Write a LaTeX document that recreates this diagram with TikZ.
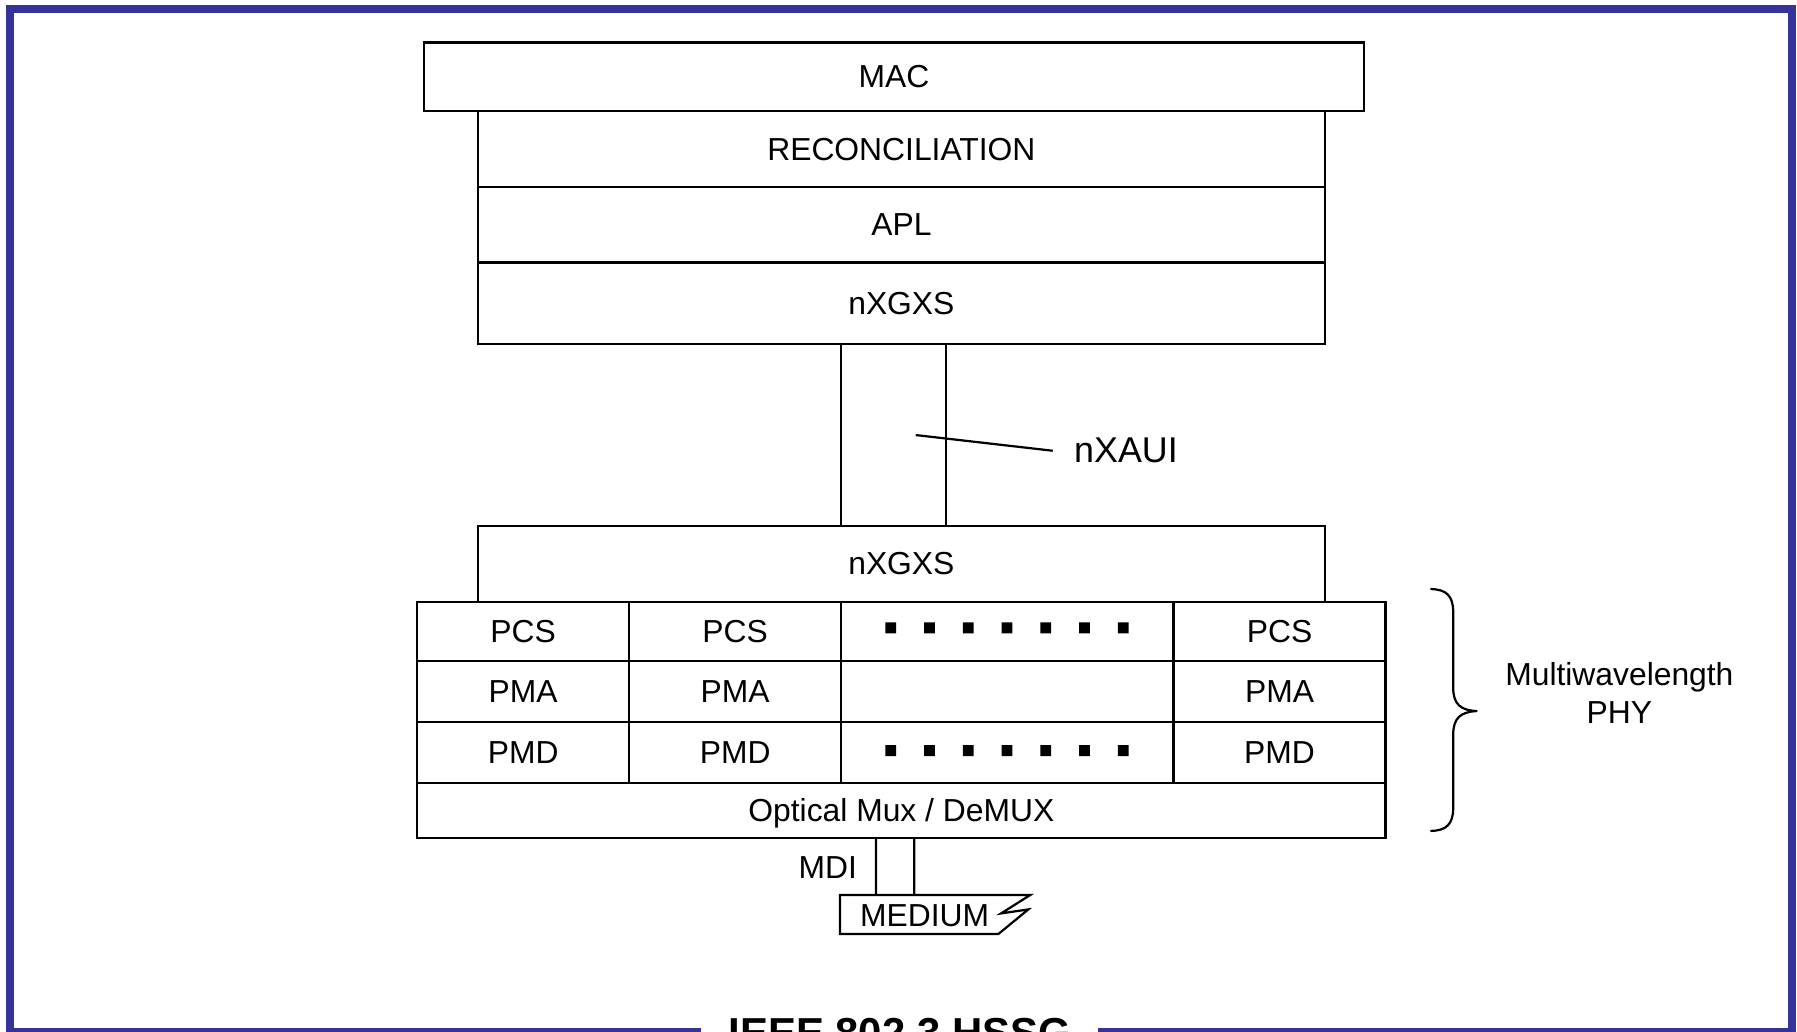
\documentclass[tikz,border=0pt]{standalone}
\usepackage{fontspec}
\setmainfont{Liberation Sans}
\usepackage{tikz}
\usetikzlibrary{positioning}
\definecolor{framecol}{RGB}{51,51,153}

\begin{document}
\begin{tikzpicture}[
  layer/.style={draw=black,line width=0.55pt,inner sep=0pt,outer sep=0pt,
    text depth=0pt,font=\fontsize{7.9}{9.5}\selectfont},
  stack/.style={layer,minimum width=7.39cm,minimum height=0.66cm},
  cell/.style={layer,minimum width=1.85cm,minimum height=0.53cm},
  gap/.style={layer,minimum width=2.9cm,minimum height=0.53cm},
  ]
  \useasboundingbox (0,0) rectangle (15.68,-9.0);
  \draw[framecol,line width=0.07cm]
  (0.087,-0.076) rectangle (15.64,-9.008);
  % upper stack
  \node[layer,minimum width=8.2cm,minimum height=0.6cm] (mac) at (7.8,-0.67) {MAC};
  \node[stack,anchor=north] (rec) at (7.865,-0.97) {RECONCILIATION};
  \node[stack,below=0pt of rec] (apl) {APL};
  \node[stack,minimum height=0.71cm,below=0pt of apl] (xgxs) {nXGXS};
  % lower stack
  \node[stack,anchor=north] (xgxsb) at (7.865,-4.59) {nXGXS};
  \node[cell,minimum height=0.52cm,anchor=north west] (pcsa) at (3.64,-5.25) {PCS};
  \node[cell,minimum height=0.52cm,right=0pt of pcsa] (pcsb) {PCS};
  \node[gap,minimum height=0.52cm,right=0pt of pcsb] (dotsa) {};
  \node[cell,minimum height=0.52cm,right=0pt of dotsa] (pcsc) {PCS};
  \node[cell,below=0pt of pcsa] (pmaa) {PMA};
  \node[cell,below=0pt of pcsb] (pmab) {PMA};
  \node[gap,below=0pt of dotsa] (pmagap) {};
  \node[cell,below=0pt of pcsc] (pmac) {PMA};
  \node[cell,below=0pt of pmaa] (pmda) {PMD};
  \node[cell,below=0pt of pmab] (pmdb) {PMD};
  \node[gap,below=0pt of pmagap] (dotsb) {};
  \node[cell,below=0pt of pmac] (pmdc) {PMD};
  \node[layer,minimum width=8.45cm,minimum height=0.48cm,anchor=north west] (mux)
  at (pmda.south west) {Optical Mux / DeMUX};
  \fill
  (7.725,-5.43) rectangle (7.819,-5.526)
  (8.063,-5.43) rectangle (8.157,-5.526)
  (8.401,-5.43) rectangle (8.495,-5.526)
  (8.739,-5.43) rectangle (8.833,-5.526)
  (9.077,-5.43) rectangle (9.171,-5.526)
  (9.415,-5.43) rectangle (9.509,-5.526)
  (9.753,-5.43) rectangle (9.847,-5.526);
  \fill
  (7.725,-6.501) rectangle (7.819,-6.597)
  (8.063,-6.501) rectangle (8.157,-6.597)
  (8.401,-6.501) rectangle (8.495,-6.597)
  (8.739,-6.501) rectangle (8.833,-6.597)
  (9.077,-6.501) rectangle (9.171,-6.597)
  (9.415,-6.501) rectangle (9.509,-6.597)
  (9.753,-6.501) rectangle (9.847,-6.597);
  % nXAUI
  \draw[line width=0.55pt]
  ([xshift=-0.529cm]xgxs.south) -- ([xshift=-0.529cm]xgxsb.north)
  ([xshift=0.39cm]xgxs.south) -- ([xshift=0.39cm]xgxsb.north);
  \node[anchor=west,inner sep=0pt,font=\fontsize{8.9}{10.7}\selectfont] (xaui) at (9.366,-3.933) {nXAUI};
  \coordinate (lead) at (7.99,-3.796);
  \draw[line width=0.55pt]
  (lead) -- ([xshift=-0.18cm]xaui.west);
  % medium
  \coordinate (medtl) at (7.33,-7.81);
  \draw[line width=0.55pt]
  (medtl)
  -- (8.988,-7.81)
  -- (8.735,-7.97)
  -- (8.973,-7.935)
  -- (8.711,-8.15)
  -- (7.33,-8.15)
  -- cycle;
  \node[font=\fontsize{7.9}{9.5}\selectfont,inner sep=0pt] (medium) at (8.068,-7.99) {MEDIUM};
  \draw[line width=0.55pt]
  ([xshift=-0.221cm]mux.south) -- ([xshift=0.314cm]medtl)
  ([xshift=0.113cm]mux.south) -- ([xshift=0.648cm]medtl);
  \node[font=\fontsize{7.9}{9.5}\selectfont,inner sep=0pt] (mdi) at (7.223,-7.57) {MDI};
  % brace
  \draw[line width=0.55pt]
  (12.48,-5.14) .. controls (12.62,-5.14) and (12.68,-5.2) .. (12.68,-5.34)
  -- (12.68,-6.0) .. controls (12.68,-6.14) and (12.74,-6.2) .. (12.89,-6.204)
  .. controls (12.74,-6.21) and (12.68,-6.27) .. (12.68,-6.41)
  -- (12.68,-7.05) .. controls (12.68,-7.19) and (12.62,-7.25) .. (12.48,-7.25);
  \node[align=center,inner sep=0pt,font=\fontsize{7.9}{9.4}\selectfont] (mwl) at (14.13,-6.05)
  {Multiwavelength\\PHY};
  % title
  \node[font=\fontsize{10.4}{12.5}\selectfont\bfseries,fill=white,inner xsep=0.24cm,anchor=base] (title)
  at (7.85,-9.14) {IEEE 802.3 HSSG};
\end{tikzpicture}
\end{document}
